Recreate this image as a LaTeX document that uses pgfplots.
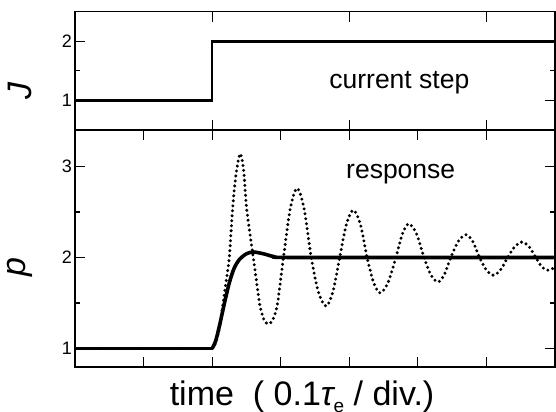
\documentclass[border=0pt]{standalone}
\usepackage{pgfplots}
\pgfplotsset{compat=1.18}
\usepackage{fontspec}
\setmainfont{Liberation Sans}
\newcommand{\tlfont}{\fontsize{18bp}{21bp}\selectfont}
\begin{document}
\begin{tikzpicture}
\pgfplotsset{
  myaxis/.style={
    scale only axis, width=480bp, xmin=0, xmax=7,
    axis line style={line width=1.6bp},
    tick style={line width=1.2bp, black},
    major tick length=10bp, minor tick length=5bp,
    tick align=inside,
    xticklabel={\mbox{}},
    yticklabel={\mbox{\tlfont\pgfmathprintnumber[assume math mode=true]{\tick}}},
    yticklabel style={inner sep=0bp, xshift=-3bp, anchor=east},
    label style={font=\fontsize{34bp}{40bp}\selectfont},
  }
}
% top panel: current step
\begin{axis}[myaxis,
  at={(0,236.7bp)}, anchor=south west, height=118.3bp,
  ymin=0.5, ymax=2.5, ytick={1,2}, minor ytick={1.5},
  xtick={2,4,6},
  ylabel={\itshape J},
  ylabel style={at={(axis description cs:-0.115,0.33)}, anchor=center},
]
\addplot[black, line width=2.6bp, line join=miter] coordinates {(0,1) (2,1) (2,2) (7,2)};
\node[anchor=base, font=\fontsize{26.5bp}{30bp}\selectfont] at (axis cs:4.73,1.21) {current step};
\end{axis}
% bottom panel: response
\begin{axis}[myaxis,
  at={(0,0)}, anchor=south west, height=236.7bp,
  ymin=0.8, ymax=3.4, ytick={1,2,3}, minor ytick={1.5,2.5},
  xtick={1,2,3,4,5,6},
  ylabel={\itshape p},
  ylabel style={at={(axis description cs:-0.115,0.42)}, anchor=center},
  xlabel={time\ \ ( 0.1{\itshape τ}\raisebox{-7.5bp}{\fontsize{19bp}{19bp}\selectfont e} / div.)},
  xlabel style={at={(axis description cs:0.473,-0.163)}, anchor=base},
]
\addplot[black, line width=3.3bp, dash pattern=on 0bp off 5bp, line cap=round] coordinates {(0,1) (2,1)};
\addplot[black, line width=3.3bp, dash pattern=on 0bp off 5bp, line cap=round, smooth] coordinates {
(2.0,1.0) (2.05,1.06) (2.10,1.2) (2.15,1.45) (2.2,1.72) (2.25,2.0)
(2.30,2.55) (2.35,2.92) (2.41,3.14) (2.46,2.95) (2.50,2.56) (2.55,2.27) (2.60,2.0)
(2.65,1.72) (2.70,1.46) (2.76,1.31) (2.82,1.27) (2.88,1.31) (2.95,1.48) (3.04,2.0)
(3.14,2.54) (3.24,2.76) (3.34,2.54) (3.445,2.0) (3.55,1.62) (3.66,1.465) (3.76,1.62)
(3.86,2.0) (3.96,2.37) (4.06,2.52) (4.16,2.37) (4.26,2.0) (4.355,1.724) (4.45,1.61)
(4.565,1.724) (4.68,2.0) (4.775,2.26) (4.87,2.37) (4.98,2.26) (5.09,2.0) (5.19,1.81)
(5.29,1.73) (5.385,1.81) (5.48,2.0) (5.59,2.177) (5.70,2.25) (5.80,2.177) (5.90,2.0)
(6.00,1.862) (6.10,1.805) (6.205,1.862) (6.31,2.0) (6.415,2.12) (6.52,2.17) (6.62,2.12)
(6.72,2.0) (6.805,1.90) (6.89,1.86) (7.0,1.89)
};
\addplot[black, line width=3.6bp] coordinates {(0,1) (2,1)};
\addplot[black, line width=3.6bp, smooth] coordinates {
(2.0,1) (2.05,1.08) (2.11,1.26) (2.18,1.5) (2.25,1.72) (2.32,1.88)
(2.40,1.98) (2.50,2.04) (2.60,2.06) (2.75,2.04) (2.90,2.01) (3.1,2.0) (5,2.0) (7,2.0)
};
\node[anchor=base, font=\fontsize{26.5bp}{30bp}\selectfont] at (axis cs:4.75,2.865) {response};
\end{axis}
\pgfresetboundingbox
\useasboundingbox (-75bp,-45.3bp) rectangle (481bp,366.7bp);
\end{tikzpicture}
\end{document}
